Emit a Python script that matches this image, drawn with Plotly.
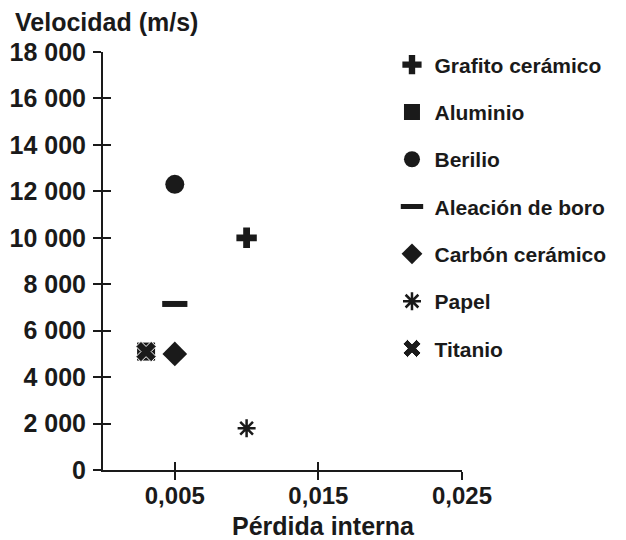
import plotly.graph_objects as go

# Data
materials = ["Grafito cerámico", "Aluminio", "Berilio", "Aleación de boro",
             "Carbón cerámico", "Papel", "Titanio"]
perdida = [0.010, 0.003, 0.005, 0.005, 0.005, 0.010, 0.003]
velocidad = [10000, 5100, 12300, 7150, 5000, 1800, 5100]

y_ticks = [0, 2000, 4000, 6000, 8000, 10000, 12000, 14000, 16000, 18000]
x_ticks = [0.005, 0.015, 0.025]
x_range = [0, 0.025]
y_range = [0, 18000]

styles = {
    "Grafito cerámico": dict(symbol="cross", size=17, color="#1a1a1a", line=dict(width=0)),
    "Aluminio": dict(symbol="square", size=18, color="#1a1a1a", line=dict(width=0)),
    "Berilio": dict(symbol="circle", size=19, color="#1a1a1a", line=dict(width=0)),
    "Aleación de boro": dict(symbol="line-ew", size=18, color="#1a1a1a", line=dict(width=6, color="#1a1a1a")),
    "Carbón cerámico": dict(symbol="diamond", size=19, color="#1a1a1a", line=dict(width=0)),
    "Papel": dict(symbol="asterisk-open", size=15, color="#1a1a1a", line=dict(width=2.5, color="#1a1a1a")),
    "Titanio": dict(symbol="x", size=18, color="#1a1a1a", line=dict(width=1, color="white")),
}

fig = go.Figure()
for i, (name, xv, yv) in enumerate(zip(materials, perdida, velocidad)):
    fig.add_trace(go.Scatter(
        x=[xv], y=[yv], mode="markers", name=name, legendgroup=f"g{i}",
        marker=styles[name],
    ))

# Invisible helper trace to activate overlaid axes (inside ticks)
fig.add_trace(go.Scatter(x=[None], y=[None], xaxis="x2", yaxis="y2",
                         showlegend=False, hoverinfo="skip"))

fam = "Liberation Sans, Arial, sans-serif"
ytickfont = dict(family=fam, size=25, color="#1a1a1a", weight="bold")
xtickfont = dict(family=fam, size=24, color="#1a1a1a", weight="bold")
titlefont = dict(family=fam, size=25, color="#1a1a1a", weight="bold")

# The page body adds an 8 px offset, so the figure is 8 px smaller on each side
fig.update_layout(
    width=618, height=532,
    margin=dict(l=95, r=164, t=44, b=70),
    plot_bgcolor="white", paper_bgcolor="white",
    separators=", ",
    showlegend=True,
    legend=dict(
        x=0.798, y=1.018, xanchor="left", yanchor="top",
        font=dict(family=fam, size=21, color="#1a1a1a", weight="bold"),
        tracegroupgap=17, bgcolor="rgba(0,0,0,0)", maxheight=540,
        itemwidth=35,
    ),
    xaxis=dict(
        range=x_range, tickvals=x_ticks, tickformat=".3f", automargin=False,
        showgrid=False, zeroline=False, showline=True, linecolor="#1a1a1a", linewidth=2,
        ticks="outside", ticklen=8, tickwidth=2, tickcolor="#1a1a1a",
        tickfont=xtickfont, ticklabelstandoff=-5,
    ),
    yaxis=dict(
        range=y_range, tickvals=y_ticks, tickformat=",d", automargin=False,
        showgrid=False, zeroline=False, showline=True, linecolor="#1a1a1a", linewidth=2,
        ticks="outside", ticklen=8, tickwidth=2, tickcolor="#1a1a1a",
        tickfont=ytickfont, ticklabelstandoff=2,
    ),
    xaxis2=dict(
        range=x_range, tickvals=x_ticks, overlaying="x", anchor="y2",
        showgrid=False, zeroline=False, showline=False, showticklabels=False,
        ticks="inside", ticklen=8, tickwidth=2, tickcolor="#1a1a1a",
    ),
    yaxis2=dict(
        range=y_range, tickvals=y_ticks[1:], overlaying="y", anchor="x2",
        showgrid=False, zeroline=False, showline=False, showticklabels=False,
        ticks="inside", ticklen=8, tickwidth=2, tickcolor="#1a1a1a",
    ),
    annotations=[
        dict(text="Velocidad (m/s)", xref="paper", yref="paper", x=-0.25, y=1.072,
             xanchor="left", yanchor="middle", showarrow=False, font=titlefont),
        dict(text="Pérdida interna", xref="paper", yref="paper", x=0.613, y=-0.134,
             xanchor="center", yanchor="middle", showarrow=False, font=titlefont),
    ],
)

fig.write_html("out.html")
